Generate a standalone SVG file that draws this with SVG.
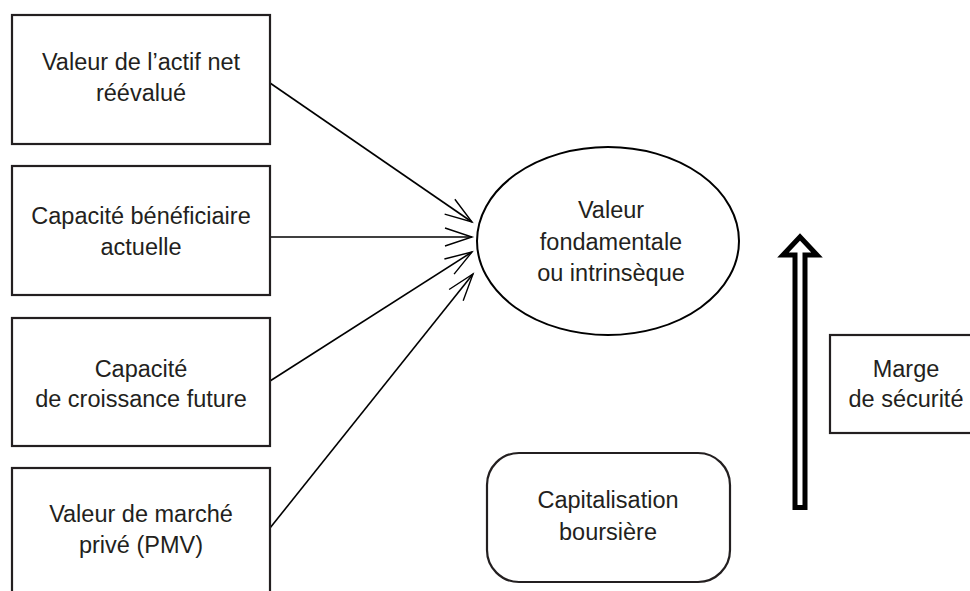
<svg xmlns="http://www.w3.org/2000/svg" width="970" height="591" viewBox="0 0 970 591">
<style>
.box{fill:#fff;stroke:#231f20;stroke-width:2.2}
.ell{fill:#fff;stroke:#000;stroke-width:2}
.t{font-family:"Liberation Sans",Arial,sans-serif;font-size:23.5px;fill:#231f20;text-anchor:middle}
.c{fill:none;stroke:#000;stroke-width:1.6}
.big{fill:#fff;stroke:#000;stroke-width:5;stroke-linejoin:miter;stroke-miterlimit:10}
</style>
<defs>
<marker id="v" markerUnits="userSpaceOnUse" viewBox="-30 -12 32 24" markerWidth="32" markerHeight="24" refX="0" refY="0" orient="auto" overflow="visible">
<path d="M-27,-9 L0,0 L-27,9" fill="none" stroke="#000" stroke-width="1.4"/>
</marker>
</defs>
<g id="connectors">
<line class="c" x1="270" y1="83" x2="472" y2="222" marker-end="url(#v)"/>
<line class="c" x1="270" y1="237" x2="472" y2="237" marker-end="url(#v)"/>
<line class="c" x1="270" y1="381" x2="472" y2="252" marker-end="url(#v)"/>
<line class="c" x1="270" y1="528" x2="473" y2="274" marker-end="url(#v)"/>
<polygon id="marge-arrow" class="big" points="795,507.5 805,507.5 805,255 817,255 800,237 783,255 795,255"/>
</g>
<g id="n1">
<rect class="box" x="12" y="15" width="258" height="129"/>
<text class="t" x="141" y="70">Valeur de l’actif net</text>
<text class="t" x="141" y="101">réévalué</text>
</g>
<g id="n2">
<rect class="box" x="12" y="166" width="258" height="129"/>
<text class="t" x="141" y="224">Capacité bénéficiaire</text>
<text class="t" x="141" y="255">actuelle</text>
</g>
<g id="n3">
<rect class="box" x="12" y="318" width="258" height="128"/>
<text class="t" x="141" y="377">Capacité</text>
<text class="t" x="141" y="407">de croissance future</text>
</g>
<g id="n4">
<rect class="box" x="12" y="468" width="258" height="140"/>
<text class="t" x="141" y="522">Valeur de marché</text>
<text class="t" x="141" y="553">privé (PMV)</text>
</g>
<g id="valeur">
<ellipse class="ell" cx="608" cy="241" rx="131" ry="94"/>
<text class="t" x="611" y="218">Valeur</text>
<text class="t" x="611" y="250">fondamentale</text>
<text class="t" x="611" y="281">ou intrinsèque</text>
</g>
<g id="capitalisation">
<rect class="box" x="487" y="453" width="243" height="129" rx="32" ry="32"/>
<text class="t" x="608" y="508">Capitalisation</text>
<text class="t" x="608" y="540">boursière</text>
</g>
<g id="marge">
<rect class="box" x="830" y="335" width="150" height="98"/>
<text class="t" x="906" y="377">Marge</text>
<text class="t" x="906" y="407">de sécurité</text>
</g>
</svg>
